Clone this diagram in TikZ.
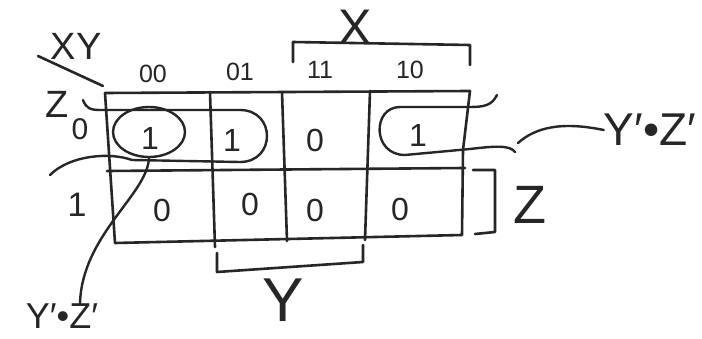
\documentclass[tikz,border=0pt]{standalone}
\usepackage{fontspec}
\setmainfont{Liberation Sans}
\usetikzlibrary{shapes.geometric}
\begin{document}
\begin{tikzpicture}[x=1pt,y=-1pt,
  ink/.style={line width=2.6pt, line cap=round, line join=round, draw=black!85},
  lbl/.style={inner sep=0pt, text=black!85},
  cellval/.style={lbl, font=\fontsize{32}{32}\selectfont},
  collbl/.style={lbl, font=\fontsize{25}{25}\selectfont},
  rowlbl/.style={lbl, font=\fontsize{34}{34}\selectfont},
  biglbl/.style={lbl, font=\fontsize{54}{54}\selectfont},
  termlbl/.style={lbl, font=\fontsize{46}{46}\selectfont},
  loopline/.style={ink, line width=2.4pt}
]
\useasboundingbox[fill=white] (0,0) rectangle (702,339);

% grid
\draw[ink] (105,93) -- (470,91) -- (463,150) -- (462,235) -- (115,243) -- cycle;
\draw[ink] (107,171) -- (465,168);
\draw[ink] (210,92) -- (215,247);
\draw[ink] (282,92) -- (287,241);
\draw[ink] (370,91) -- (365,240);

% corner label
\node[lbl, font=\fontsize{38}{38}\selectfont] (xy) at (76,46) {XY};
\node[lbl, font=\fontsize{38}{38}\selectfont] (zr) at (57,104) {Z};
\draw[ink] (38,56) -- (103,86);

% column labels
\node[collbl] (c00) at (153,74) {00};
\node[collbl] (c01) at (240,72) {01};
\node[collbl] (c11) at (320,70) {11};
\node[collbl] (c10) at (410,70) {10};

% row labels
\node[rowlbl, font=\fontsize{30}{30}\selectfont] (r0) at (80,129) {0};
\node[rowlbl] (r1) at (77,205) {1};

% cell values
\node[cellval] (v00) at (150,138) {1};
\node[cellval] (v01) at (232,140) {1};
\node[cellval] (v11) at (315,140) {0};
\node[cellval] (v10) at (418,135) {1};
\node[cellval] (w00) at (162,210) {0};
\node[cellval] (w01) at (250,204) {0};
\node[cellval] (w11) at (315,210) {0};
\node[cellval] (w10) at (400,209) {0};

% X bracket
\draw[ink] (293,62) -- (293,42) -- (470,45) -- (470,65);
\node[biglbl, font=\fontsize{50}{50}\selectfont] (lx) at (355,27) {X};

% Y bracket
\draw[ink] (217,253) -- (217,272) -- (363,262) -- (363,245);
\node[biglbl, font=\fontsize{62}{62}\selectfont] (ly) at (283,300) {Y};

% Z bracket
\draw[ink] (473,170) -- (495,170) -- (495,232) -- (475,234);
\node[biglbl] (lz) at (530,205) {Z};

% loops
\node[loopline, ellipse, draw, minimum width=72pt, minimum height=50pt, inner sep=0pt] (loopA) at (149,132) {};
\draw[loopline] (83,100) .. controls (86,108) and (90,110) .. (100,110) -- (240,110)
  .. controls (276,110) and (276,162) .. (240,162) -- (132,160)
  .. controls (110,152) and (70,155) .. (50,175);
\draw[loopline] (497,95) .. controls (492,105) and (485,107) .. (470,107) -- (400,107)
  .. controls (372,107) and (372,155) .. (405,155) -- (470,149)
  .. controls (495,146) and (510,145) .. (515,152);

% term labels and connectors
\node[termlbl] (tR) at (650,130) {Y′•Z′};
\coordinate (ctail) at (518,143);
\draw[loopline] (ctail) .. controls (535,128) and (560,121) .. (tR.west);
\node[lbl, font=\fontsize{36}{36}\selectfont] (tL) at (62,316) {Y′•Z′};
\draw[loopline] (loopA.south) .. controls (147,195) and (82,235) .. ([xshift=18pt]tL.north);
\end{tikzpicture}
\end{document}
